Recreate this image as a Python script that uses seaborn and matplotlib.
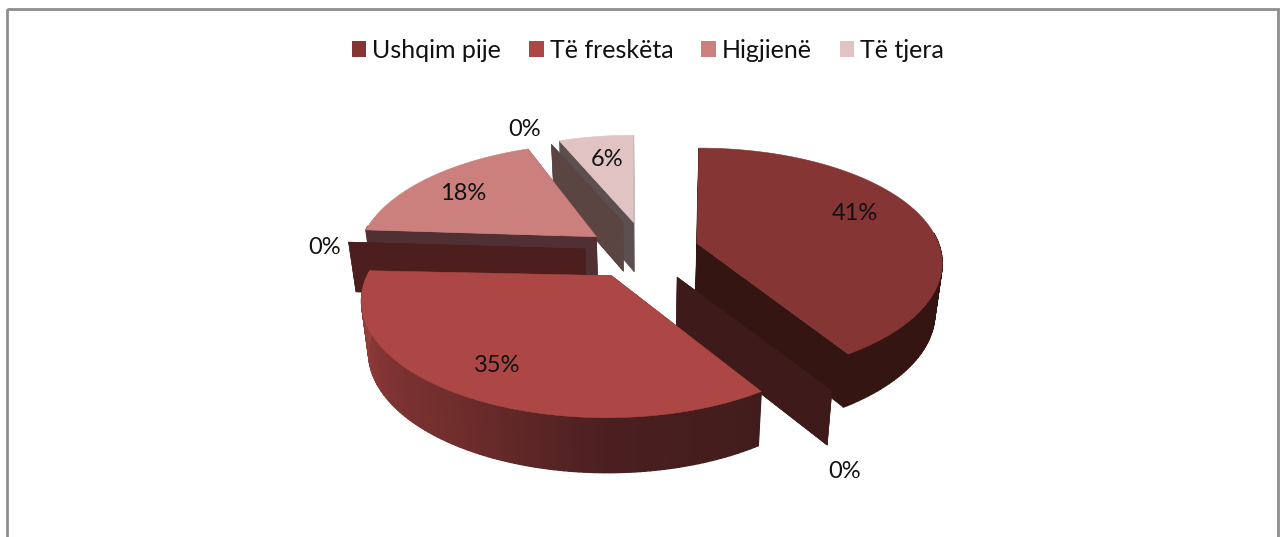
import numpy as np
import seaborn as sns
import matplotlib.pyplot as plt
from matplotlib.patches import Patch, Polygon, Rectangle

# Data, clockwise from 12 o'clock
categories = ["Ushqim pije", "", "Të freskëta", "", "Higjienë", "", "Të tjera"]
shares = [41, 0, 35, 0, 18, 0, 6]
explode = [0.9, 1, 1, 1, 1, 1, 1]

# Colours of each slice: top, wall, outer side (dark to light end)
top_colors = ["#843534", "#3e1b1a", "#ad4745", "#4d1e1e", "#cc807e", "#5a4543", "#e2c3c4"]
wall_colors = ["#351512", "#3e1b1a", "#4d1e1e", "#4d1e1e", "#503033", "#5a4543", "#5c4f4f"]
side_ramps = [
    ["#351512", "#351512"],
    ["#3e1b1a", "#3e1b1a"],
    ["#421c1c", "#4b1f1f", "#6e2d2c", "#853635", "#9c4341"],
    ["#4d1e1e", "#4d1e1e"],
    ["#503033", "#503033"],
    ["#5a4543", "#5a4543"],
    ["#5c4f4f", "#5c4f4f"],
]
draw_order = [0, 6, 5, 4, 3, 1, 2]

label_pos = [(855, 214), (845, 471), (497, 366), (325, 247), (463, 194), (525, 130), (607, 159)]

# Projection of the pie, in pixels
CX, CY = 645, 251
RX, RY = 240, 112
EX, EY = 60, 31
DEPTH = 50
persp = [0.165, 0.2, 0.2, 0.2, 0.2, 0.2, 0.2]
# small fixes per slice, the renderer of the original is not a clean projection
arc_shift = [(2, 1), (0, 0), (-8, 0), (0, 0), (6, 4), (3, 10), (0, 8)]
apex_shift = [(0, 0), (0, 0), (-3, -2), (0, 0), (0, 4), (0, 0), (0, 2)]


def project(a, ox, oy, k):
    # a is clockwise from the top, in radians
    u, v = np.sin(a), np.cos(a)
    w = 1 + k * v
    return ox + RX * u / w, oy - RY * v / w


def lower(x, y):
    return CX + (x - CX) * 0.975, y + DEPTH + 0.03 * (y - CY)


sns.set_style("white")
plt.rcParams["font.family"] = ["Lato", "DejaVu Sans"]

fig = plt.figure(figsize=(12.84, 5.37), dpi=100)
ax = fig.add_axes([0, 0, 1, 1])
ax.set_xlim(0, 1284)
ax.set_ylim(537, 0)
ax.axis("off")

ax.add_patch(Rectangle((7, 9), 1271, 560, fill=False, ec="#8e8e8e", lw=2))

edges = np.cumsum([0] + shares) / sum(shares) * 2 * np.pi
for i in draw_order:
    a0, a1 = edges[i], edges[i + 1]
    mid = (a0 + a1) / 2
    ox = CX + EX * explode[i] * np.sin(mid)
    oy = CY - EY * explode[i] * np.cos(mid)
    px, py = ox + apex_shift[i][0], oy + apex_shift[i][1]
    bx, by = lower(px, py)
    ox += arc_shift[i][0]
    oy += arc_shift[i][1]
    k = persp[i]

    # the two radial walls
    for a in (a0, a1):
        x, y = project(a, ox, oy, k)
        wall = [(px, py), (x, y), lower(x, y), (bx, by)]
        ax.add_patch(Polygon(wall, fc=wall_colors[i], ec=wall_colors[i], lw=0.4))

    # outer side, split in facets for the gradient, front half only
    if a1 > a0:
        n = max(int(np.degrees(a1 - a0)), 2)
        ramp = sns.blend_palette(side_ramps[i], n)
        angles = np.linspace(a0, a1, n + 1)
        for j in range(n):
            if np.cos((angles[j] + angles[j + 1]) / 2) > 0.1:
                continue
            x0, y0 = project(angles[j], ox, oy, k)
            x1, y1 = project(angles[j + 1], ox, oy, k)
            quad = [(x0, y0), (x1, y1), lower(x1, y1), lower(x0, y0)]
            ax.add_patch(Polygon(quad, fc=ramp[j], ec=ramp[j], lw=1.0))

    # top face
    if a1 > a0:
        arc = np.linspace(a0, a1, 120)
        xs, ys = project(arc, ox, oy, k)
        pts = [(px, py)] + list(zip(xs, ys))
        ax.add_patch(Polygon(pts, fc=top_colors[i], ec=top_colors[i], lw=0.4))

for share, (x, y) in zip(shares, label_pos):
    ax.text(x, y, f"{share}%", ha="center", va="center", fontsize=17, color="#111111")

handles = [Patch(fc=c, lw=0, label=n) for n, c in zip(categories, top_colors) if n]
ax.legend(
    handles=handles,
    ncol=4,
    loc="upper center",
    bbox_to_anchor=(0.5047, 0.97),
    frameon=False,
    fontsize=18,
    handlelength=0.58,
    handleheight=0.58,
    handletextpad=0.24,
    columnspacing=1.12,
    labelcolor="#111111",
)

fig.savefig("out.png", dpi=100)
